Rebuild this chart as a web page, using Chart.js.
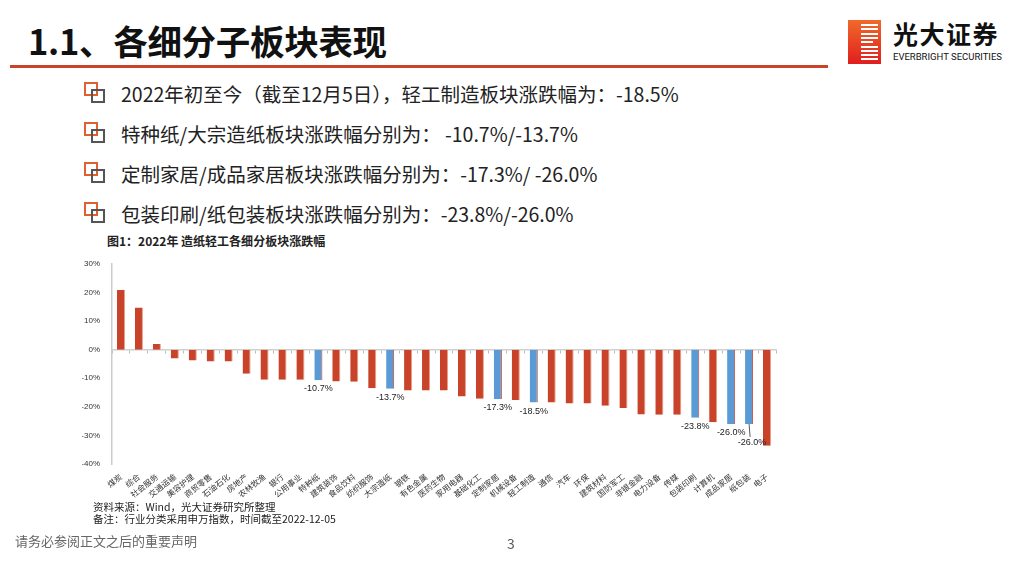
<!DOCTYPE html>
<html><head><meta charset="utf-8">
<script src="https://cdn.jsdelivr.net/npm/chart.js@4.4.0/dist/chart.umd.min.js"></script>
<style>
html,body{margin:0;padding:0;background:#fff;}
body{width:1024px;height:576px;position:relative;overflow:hidden;font-family:"Noto Sans CJK SC","Noto Sans",sans-serif;}
.abs{position:absolute;white-space:nowrap;}
#title{left:28px;top:15px;font-size:34.5px;font-weight:700;color:#111;letter-spacing:-0.3px;}
#rule{left:10px;top:65px;width:818px;height:3px;background:#C8432A;}
#logo{left:848px;top:20px;width:33px;height:44px;background:linear-gradient(180deg,#f06a2a,#e01e1e);}
#logo .st{position:absolute;left:13px;width:17px;height:2px;background:#fff;}
#brand{left:893px;top:15px;font-size:25px;font-weight:700;color:#111;letter-spacing:1.5px;}
#brand2{left:893px;top:51px;font-size:9.5px;color:#111;font-family:"Roboto","Liberation Sans",sans-serif;}
.bul{font-size:19.5px;color:#222;left:121px;}
.ico1{width:10px;height:10px;border:2px solid #E06030;}
.ico2{width:10px;height:10px;border:2px solid #555;}
#ctitle{left:107px;top:232px;font-size:12px;font-weight:700;color:#222;}
#src{left:93px;top:501px;font-size:10.5px;color:#222;line-height:12px;}
#disc{left:15px;top:531px;font-size:13px;color:#666;}
#pg{left:507px;top:533px;font-size:14px;color:#555;}
#cv{position:absolute;left:80px;top:255px;}
</style></head><body>
<div class="abs" id="title">1.1、各细分子板块表现</div>
<div class="abs" id="rule"></div>
<div class="abs" id="logo"></div>
<div class="abs" id="brand">光大证券</div>
<div class="abs" id="brand2">EVERBRIGHT SECURITIES</div>

<div class="abs ico1" style="left:84px;top:82px"></div><div class="abs ico2" style="left:91px;top:89px"></div>
<div class="abs bul" style="top:79px">2022年初至今（截至12月5日），轻工制造板块涨跌幅为：-18.5%</div>
<div class="abs ico1" style="left:84px;top:122px"></div><div class="abs ico2" style="left:91px;top:129px"></div>
<div class="abs bul" style="top:119px">特种纸/大宗造纸板块涨跌幅分别为： -10.7%/-13.7%</div>
<div class="abs ico1" style="left:84px;top:162px"></div><div class="abs ico2" style="left:91px;top:169px"></div>
<div class="abs bul" style="top:159px">定制家居/成品家居板块涨跌幅分别为：-17.3%/ -26.0%</div>
<div class="abs ico1" style="left:84px;top:202px"></div><div class="abs ico2" style="left:91px;top:209px"></div>
<div class="abs bul" style="top:199px">包装印刷/纸包装板块涨跌幅分别为：-23.8%/-26.0%</div>

<div class="abs" id="ctitle">图1：2022年 造纸轻工各细分板块涨跌幅</div>
<canvas id="cv" width="710" height="250" style="width:710px;height:250px"></canvas>
<div class="abs" id="src">资料来源：Wind，光大证券研究所整理<br>备注：行业分类采用申万指数，时间截至2022-12-05</div>
<div class="abs" id="disc">请务必参阅正文之后的重要声明</div>
<div class="abs" id="pg">3</div>

<script>
// ---- data ----
const categories = ["煤炭","综合","社会服务","交通运输","美容护理","商贸零售","石油石化","房地产","农林牧渔","银行","公用事业","特种纸","建筑装饰","食品饮料","纺织服饰","大宗造纸","钢铁","有色金属","医药生物","家用电器","基础化工","定制家居","机械设备","轻工制造","通信","汽车","环保","建筑材料","国防军工","非银金融","电力设备","传媒","包装印刷","计算机","成品家居","纸包装","电子"];
const values = [20.9,14.8,2.0,-3.1,-3.8,-4.1,-4.1,-8.4,-10.5,-10.5,-10.5,-10.7,-11.1,-11.2,-13.5,-13.7,-14.3,-14.3,-14.3,-16.4,-17.2,-17.3,-17.6,-18.5,-18.5,-18.8,-18.8,-19.6,-20.4,-22.7,-22.8,-22.8,-23.8,-25.4,-26.0,-26.0,-33.6];
const highlighted = ["特种纸","大宗造纸","定制家居","轻工制造","包装印刷","成品家居","纸包装"];
const yTicks = [30,20,10,0,-10,-20,-30,-40];

// ---- logo stripes ----
const logo=document.getElementById('logo');
for(let i=0;i<9;i++){const s=document.createElement('div');s.className='st';s.style.top=(4+i*4.3)+'px';s.style.width=(i==4?12:17)+'px';logo.appendChild(s);}

const RED="#C8432A", BLUE="#5B9BD5";
const colors = categories.map(c=>highlighted.includes(c)?BLUE:RED);
const borders = categories.map(c=>highlighted.includes(c)?"#C8432A":"#E8A08A");

const labelPlugin = {
  id:'blueLabels',
  afterDatasetsDraw(chart){
    const ctx=chart.ctx, meta=chart.getDatasetMeta(0);
    ctx.save();
    ctx.font='9px "Liberation Sans", Arial, sans-serif';
    ctx.fillStyle='#222';ctx.textAlign='center';ctx.textBaseline='top';
    let prev=null;
    categories.forEach((c,i)=>{
      if(!highlighted.includes(c)) return;
      const el=meta.data[i];
      const txt=values[i].toFixed(1)+'%';
      const w=ctx.measureText(txt).width;
      let x=el.x, y=el.y+4;
      if(prev && x-w/2 < prev.x+prev.w/2 && Math.abs(y-prev.y)<10){
        x=el.x+3; y=prev.y+10;
        ctx.strokeStyle='#333';ctx.lineWidth=0.8;
        ctx.beginPath();ctx.moveTo(el.x,el.y);ctx.lineTo(el.x+1,y-1);ctx.stroke();
      }
      ctx.fillText(txt,x,y);
      prev={x,y,w};
    });
    ctx.restore();
  }
};

new Chart(document.getElementById('cv'),{
  type:'bar',
  data:{labels:categories,datasets:[{data:values,backgroundColor:colors,borderColor:borders,borderWidth:{left:0,right:1,top:0,bottom:0},barPercentage:0.45,categoryPercentage:1}]},
  options:{
    responsive:false,animation:false,
    layout:{padding:{left:2,right:14,top:9,bottom:0}},
    plugins:{legend:{display:false},tooltip:{enabled:false}},
    scales:{
      x:{type:'category',position:'bottom',grid:{display:false},border:{display:false},
        ticks:{autoSkip:false,minRotation:38,maxRotation:38,padding:0,color:'#333',font:{size:8,family:'"Noto Sans CJK SC"'}},
        afterFit(s){s.height=41;}},
      x2:{type:'category',labels:categories,position:{y:0},offset:true,
        grid:{offset:true,drawOnChartArea:false,drawTicks:true,tickLength:3,color:'#bbb'},
        border:{display:true,color:'#d0d0d0',width:1.5},ticks:{display:false}},
      y:{min:-40,max:30,afterBuildTicks(s){s.ticks=yTicks.map(v=>({value:v}));},
        grid:{display:false,drawTicks:true},border:{display:true,color:'#ccc',width:1.5},
        ticks:{color:'#333',padding:4,font:{size:8,family:'"Liberation Sans", Arial'},callback:v=>v+'%'},
        afterFit(s){s.width=30;}}
    }
  },
  plugins:[labelPlugin]
});
</script>
</body></html>
